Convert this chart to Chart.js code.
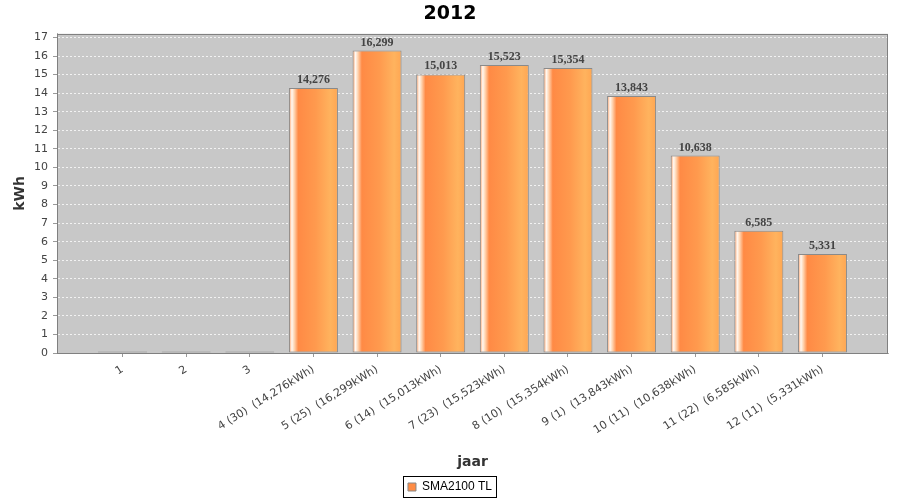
<!DOCTYPE html>
<html>
<head>
<meta charset="utf-8">
<script src="https://cdn.jsdelivr.net/npm/chart.js@4/dist/chart.umd.min.js"></script>
<style>
  html, body { margin: 0; padding: 0; background: #fff; }
  #wrap { width: 900px; height: 500px; }
</style>
</head>
<body>
<div id="wrap"><canvas id="c" width="900" height="500"></canvas></div>
<script>
// maanden (1..12), productie in kWh, aantal dagen tussen haakjes
const maanden   = [1, 2, 3, 4, 5, 6, 7, 8, 9, 10, 11, 12];
const dagen     = [null, null, null, 30, 25, 14, 23, 10, 1, 11, 22, 11];
const opbrengst = [0.08, 0.08, 0.08, 14.276, 16.299, 15.013, 15.523, 15.354, 13.843, 10.638, 6.585, 5.331];
const yTicks    = [0, 1, 2, 3, 4, 5, 6, 7, 8, 9, 10, 11, 12, 13, 14, 15, 16, 17];
const serieNaam = 'SMA2100 TL';

const fmt = v => v.toFixed(3).replace('.', ',');
const tickLabels = maanden.map((m, i) =>
  dagen[i] == null ? String(m) : `${m} (${dagen[i]})  (${fmt(opbrengst[i])}kWh)`);

const BAR_FRAC = 0.77;

function barFill(c) {
  const chart = c.chart;
  const xs = chart.scales.x;
  if (!xs || c.parsed == null || !chart.chartArea) return '#ff8c45';
  const cx = xs.getPixelForValue(c.parsed.x);
  const half = (xs.getPixelForValue(1) - xs.getPixelForValue(0)) * BAR_FRAC / 2;
  const g = chart.ctx.createLinearGradient(cx - half, 0, cx + half, 0);
  g.addColorStop(0.00, '#ff9a5c');
  g.addColorStop(0.06, '#fff8f2');
  g.addColorStop(0.11, '#ffd4b0');
  g.addColorStop(0.19, '#ff8a45');
  g.addColorStop(0.55, '#ff9a4e');
  g.addColorStop(0.85, '#ffb35e');
  g.addColorStop(1.00, '#ffa652');
  return g;
}

// achtergrond + rand van het plotvlak
const plotVlak = {
  id: 'plotVlak',
  beforeDraw(chart) {
    const { ctx, chartArea: a } = chart;
    ctx.save();
    ctx.fillStyle = '#c8c8c8';
    ctx.fillRect(a.left, a.top, a.right - a.left, a.bottom - a.top);
    ctx.restore();
  },
  afterDraw(chart) {
    const { ctx, chartArea: a } = chart;
    ctx.save();
    ctx.strokeStyle = '#808080';
    ctx.lineWidth = 1;
    ctx.strokeRect(Math.round(a.left) + 0.5, Math.round(a.top) + 0.5,
                   Math.round(a.right - a.left) - 1, Math.round(a.bottom - a.top));
    // kader om de legenda
    const lg = chart.legend;
    if (lg && lg.legendHitBoxes && lg.legendHitBoxes.length) {
      const hb = lg.legendHitBoxes[0];
      const mid = Math.round(hb.top + hb.height / 2);
      ctx.strokeStyle = '#000';
      ctx.strokeRect(Math.round(hb.left) - 4.5, mid - 10.5, Math.round(hb.width) + 9, 21);
    }
    ctx.restore();
  }
};

// waarden boven de staven
const waardeLabels = {
  id: 'waardeLabels',
  afterDatasetsDraw(chart) {
    const { ctx } = chart;
    const meta = chart.getDatasetMeta(0);
    ctx.save();
    ctx.font = 'bold 12px "Liberation Serif", serif';
    ctx.fillStyle = '#444';
    ctx.textAlign = 'center';
    ctx.textBaseline = 'bottom';
    meta.data.forEach((bar, i) => {
      if (opbrengst[i] < 1) return;
      ctx.fillText(fmt(opbrengst[i]), bar.x, bar.y - 2);
    });
    ctx.restore();
  }
};

new Chart(document.getElementById('c'), {
  type: 'bar',
  data: {
    datasets: [{
      label: serieNaam,
      data: maanden.map((m, i) => ({ x: m, y: opbrengst[i] })),
      backgroundColor: barFill,
      borderColor: '#8a8a8a',
      borderWidth: 1,
      borderSkipped: false,
      barPercentage: BAR_FRAC,
      categoryPercentage: 1,
    }],
  },
  options: {
    responsive: false,
    animation: false,
    layout: { padding: { left: 0, right: 0, top: 0, bottom: -3 } },
    plugins: {
      title: {
        display: true,
        text: '2012',
        color: '#000',
        font: { family: '"DejaVu Sans", sans-serif', size: 19, weight: 'bold' },
        padding: { top: 3, bottom: 8 },
      },
      legend: {
        position: 'bottom',
        labels: {
          color: '#222',
          font: { family: '"Liberation Sans", sans-serif', size: 12 },
          boxWidth: 8,
          boxHeight: 8,
          padding: 6,
          generateLabels: () => [{
            text: serieNaam, fillStyle: '#ff8c45', strokeStyle: '#888', lineWidth: 1, datasetIndex: 0,
          }],
        },
      },
      tooltip: { enabled: false },
    },
    scales: {
      x: {
        type: 'linear',
        offset: false,
        min: -0.03,
        max: 13.03,
        afterBuildTicks: s => { s.ticks = maanden.map(v => ({ value: v })); },
        afterFit: s => { s.height = 122; },
        ticks: {
          callback: v => tickLabels[maanden.indexOf(v)] ?? '',
          color: '#444',
          font: { family: '"DejaVu Sans", sans-serif', size: 11 },
          minRotation: 32,
          maxRotation: 32,
          autoSkip: false,
          padding: 6,
        },
        grid: {
          offset: false,
          drawOnChartArea: false,
          drawTicks: true,
          tickLength: 4,
          tickColor: '#999',
        },
        border: { color: '#aaa' },
        title: {
          display: true,
          text: 'jaar',
          color: '#333',
          font: { family: '"DejaVu Sans", sans-serif', size: 14, weight: 'bold' },
          padding: { top: 2, bottom: 4 },
        },
      },
      y: {
        min: 0,
        max: 17.2,
        afterBuildTicks: s => { s.ticks = yTicks.map(v => ({ value: v })); },
        afterFit: s => { s.width = 57; },
        ticks: {
          color: '#444',
          font: { family: '"DejaVu Sans", sans-serif', size: 11 },
          padding: 5,
        },
        grid: {
          color: '#f2f2f2',
          lineWidth: 1,
          tickLength: 4,
          tickColor: '#999',
          tickBorderDash: [],
        },
        border: { color: '#aaa', dash: [2, 2] },
        title: {
          display: true,
          text: 'kWh',
          color: '#333',
          font: { family: '"DejaVu Sans", sans-serif', size: 14, weight: 'bold' },
          padding: { top: 12, bottom: 6 },
        },
      },
      // lege rechterrand zodat legenda over de volle breedte centreert
      rand: {
        type: 'linear',
        position: 'right',
        display: true,
        afterFit: s => { s.width = 12; },
        ticks: { display: false },
        grid: { display: false, drawTicks: false },
        border: { display: false },
      },
    },
  },
  plugins: [plotVlak, waardeLabels],
});
</script>
</body>
</html>
